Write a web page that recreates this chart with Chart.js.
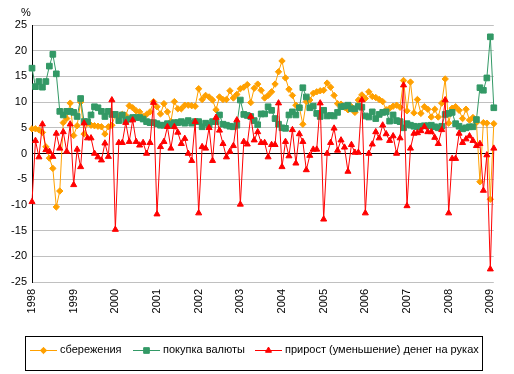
<!DOCTYPE html>
<html lang="ru">
<head>
    <meta charset="UTF-8">
    <title>Сбережения, покупка валюты, деньги на руках</title>
    <style>
        body {
            margin: 0;
            background: #ffffff;
        }
        #chart {
            display: block;
        }
    </style>
    <script src="https://cdn.jsdelivr.net/npm/chart.js"></script>
</head>
<body>
    <canvas id="chart" width="514" height="374"></canvas>
    <script>
        // year labels on the category axis (one tick per January)
        const years = ['1998', '1999', '2000', '2001', '2002', '2003',
                       '2004', '2005', '2006', '2007', '2008', '2009'];

        // сбережения, % (monthly, Jan 1998 - Feb 2009)
        const savings = [
            4.8, 4.8, 4.6, 4.1, 1.3, -0.9, -2.9, -10.4, -7.3, 6.0, 6.8, 9.8,
            3.5, 5.4, 10.0, 3.8, 5.9, 5.5, 5.4, 5.3, 5.2, 3.8, 5.2, 5.5,
            7.5, 7.2, 7.6, 7.4, 9.3, 8.9, 8.3, 8.1, 7.2, 7.6, 8.1, 10.1,
            9.1, 7.7, 9.7, 8.1, 6.2, 10.1, 8.7, 8.7, 9.4, 9.4, 9.3, 9.2,
            12.6, 10.5, 11.3, 11.0, 10.4, 8.5, 11.0, 10.5, 10.5, 12.2, 10.8, 11.5,
            12.6, 12.9, 13.4, 9.9, 12.7, 13.5, 12.3, 10.8, 11.3, 12.0, 13.5, 15.9,
            18.0, 14.7, 12.5, 11.3, 9.4, 9.0, 5.7, 10.1, 10.4, 11.7, 12.0, 12.2,
            12.3, 13.7, 12.9, 11.3, 9.7, 9.6, 9.0, 8.5, 9.1, 8.0, 10.4, 11.4,
            10.7, 12.0, 11.1, 10.9, 10.5, 10.1, 8.5, 8.8, 9.2, 9.4, 9.0, 14.2,
            8.3, 13.9, 7.9, 10.5, 7.8, 9.1, 8.6, 7.1, 8.6, 7.1, 9.8, 14.5,
            5.9, 8.8, 9.1, 8.4, 6.8, 8.6, 6.5, 7.0, 6.0, -5.5, 6.0, 5.9,
            -8.9, 5.8
        ];

        // покупка валюты, %
        const fxPurchase = [
            16.6, 13.0, 14.0, 12.9, 14.0, 17.0, 19.3, 15.5, 8.2, 7.5, 8.2, 8.2,
            8.0, 7.2, 10.7, 6.2, 6.2, 7.5, 9.1, 8.9, 8.2, 7.2, 8.2, 7.6,
            7.6, 6.4, 7.5, 6.4, 6.7, 7.0, 7.0, 7.0, 6.7, 6.2, 6.0, 6.0,
            5.8, 5.5, 5.5, 5.8, 5.5, 6.0, 6.0, 6.2, 5.9, 6.4, 5.9, 6.2,
            6.2, 5.2, 5.9, 5.5, 6.2, 6.2, 7.5, 5.7, 5.5, 5.3, 5.2, 5.5,
            10.4, 7.6, 7.4, 7.2, 6.4, 5.6, 7.7, 7.7, 9.1, 8.4, 6.8, 5.7,
            5.0, 4.9, 7.5, 8.1, 7.5, 8.9, 12.8, 11.0, 8.9, 9.2, 7.8, 7.2,
            8.4, 7.3, 7.4, 7.3, 8.0, 9.1, 9.2, 9.4, 8.7, 8.7, 9.2, 9.0,
            7.3, 7.1, 8.1, 6.8, 7.6, 8.0, 8.1, 6.3, 7.5, 6.4, 6.2, 5.0,
            5.8, 5.5, 5.3, 5.2, 5.3, 5.4, 5.4, 5.5, 5.2, 5.0, 5.3, 7.6,
            7.8, 8.0, 5.8, 5.3, 4.8, 5.0, 5.2, 5.2, 6.6, 12.8, 12.3, 14.7,
            22.7, 8.9
        ];

        // прирост (уменьшение) денег на руках, %
        const cashChange = [
            -9.4, 2.5, -0.7, 5.7, 0.7, 0.4, -0.6, 3.9, 1.0, 4.2, 0.4, 5.7,
            -6.1, 0.8, -2.6, 5.9, 3.0, 3.0, 0.0, -0.7, -1.3, 2.0, -0.6, 10.4,
            -14.8, 2.1, 2.1, 6.0, 2.3, 6.5, 2.3, 1.6, 2.1, 0.0, 2.1, 9.9,
            -11.8, 1.3, 2.3, 5.2, 1.0, 5.2, 4.1, 1.9, 2.9, 0.0, -1.4, 6.2,
            -11.6, 1.3, 1.0, 5.0, -1.4, 7.0, 4.5, 1.9, -0.7, 0.4, 1.5, 6.5,
            -9.9, 2.3, 1.8, 7.2, 2.6, 4.2, 2.1, 2.1, -0.7, 1.7, 1.7, 9.8,
            -2.6, 2.3, -0.5, 4.6, -1.9, 3.8, 2.3, -3.2, -0.4, 0.8, 0.8, 9.8,
            -12.8, 0.0, 2.1, 4.9, 0.6, 2.6, 1.2, -3.5, 1.7, 0.2, 0.2, 10.4,
            -11.6, 0.0, 1.8, 4.2, 3.0, 5.5, 3.8, 2.5, 3.4, 0.0, 3.0, 13.3,
            -10.2, 1.0, 3.9, 4.0, 4.4, 5.2, 4.2, 4.2, 3.1, 1.9, 4.6, 10.4,
            -11.6, -1.0, -1.0, 3.9, 2.1, 2.8, 3.4, 2.5, 1.5, 1.9, -7.2, -0.3,
            -22.5, 1.0
        ];

        // one category per month, January carries the year
        const labels = [];
        years.forEach(y => {
            for (let m = 1; m <= 12; m++) labels.push(y + '-' + String(m).padStart(2, '0'));
        });
        labels.length = savings.length;

        const FONT = { family: '"Liberation Sans", Arial, sans-serif', size: 11 };

        // boxed legend at the bottom + the "%" caption, like the excel original
        const boxLegend = {
            id: 'boxLegend',
            afterDraw(chart) {
                const c = chart.ctx;
                c.save();
                c.font = '11px "Liberation Sans", Arial, sans-serif';
                c.fillStyle = '#000';
                c.textBaseline = 'middle';
                c.textAlign = 'left';
                c.fillText('%', 21, 13);

                c.strokeStyle = '#000';
                c.lineWidth = 1;
                c.strokeRect(25.5, 336.5, 457, 34);

                const itemX = [30, 133, 255];
                const ly = 350.5;
                chart.data.datasets.forEach((ds, i) => {
                    const x = itemX[i];
                    c.strokeStyle = ds.borderColor;
                    c.fillStyle = ds.borderColor;
                    c.lineWidth = 1;
                    c.beginPath();
                    c.moveTo(x, ly);
                    c.lineTo(x + 27, ly);
                    c.stroke();
                    Chart.helpers.drawPoint(c, {
                        pointStyle: ds.pointStyle,
                        radius: ds.pointRadius,
                        rotation: 0,
                        borderWidth: 1
                    }, x + 13.5, ly);
                    c.fillStyle = '#000';
                    c.fillText(ds.label, x + 30, ly - 1);
                });
                c.restore();
            }
        };

        new Chart(document.getElementById('chart'), {
            type: 'line',
            data: {
                labels: labels,
                datasets: [{
                    label: 'сбережения',
                    data: savings,
                    borderColor: '#FFA000',
                    backgroundColor: '#FFA000',
                    pointBackgroundColor: '#FFA000',
                    pointBorderColor: '#FFA000',
                    pointStyle: 'rectRot',
                    pointRadius: 3.2,
                    borderWidth: 1,
                    order: 3
                }, {
                    label: 'покупка валюты',
                    data: fxPurchase,
                    borderColor: '#339966',
                    backgroundColor: '#339966',
                    pointBackgroundColor: '#339966',
                    pointBorderColor: '#339966',
                    pointStyle: 'rect',
                    pointRadius: 4,
                    borderWidth: 1,
                    order: 2
                }, {
                    label: 'прирост (уменьшение) денег на руках',
                    data: cashChange,
                    borderColor: '#FF0000',
                    backgroundColor: '#FF0000',
                    pointBackgroundColor: '#FF0000',
                    pointBorderColor: '#FF0000',
                    pointStyle: 'triangle',
                    pointRadius: 3.5,
                    borderWidth: 1,
                    order: 1
                }]
            },
            options: {
                responsive: false,
                animation: false,
                layout: { padding: { top: 25, right: 16, bottom: 0, left: 0 } },
                plugins: {
                    legend: { display: false },
                    tooltip: { enabled: false }
                },
                scales: {
                    x: {
                        type: 'category',
                        offset: false,
                        grid: { display: false, drawTicks: false },
                        border: { display: false },
                        ticks: {
                            autoSkip: false,
                            minRotation: 90,
                            maxRotation: 90,
                            padding: 7,
                            color: '#000',
                            font: FONT,
                            callback: (v, i) => (i % 12 === 0 ? years[i / 12] : '')
                        },
                        afterFit: s => { s.height = 92; }
                    },
                    y: {
                        min: -25,
                        max: 25,
                        ticks: { stepSize: 5, padding: 5, color: '#000', font: FONT },
                        grid: {
                            drawTicks: false,
                            color: c => (c.tick && c.tick.value === 0 ? '#000' : '#c0c0c0')
                        },
                        border: { color: '#000' },
                        afterFit: s => { s.width = 32; }
                    }
                }
            },
            plugins: [boxLegend]
        });
    </script>
</body>
</html>
